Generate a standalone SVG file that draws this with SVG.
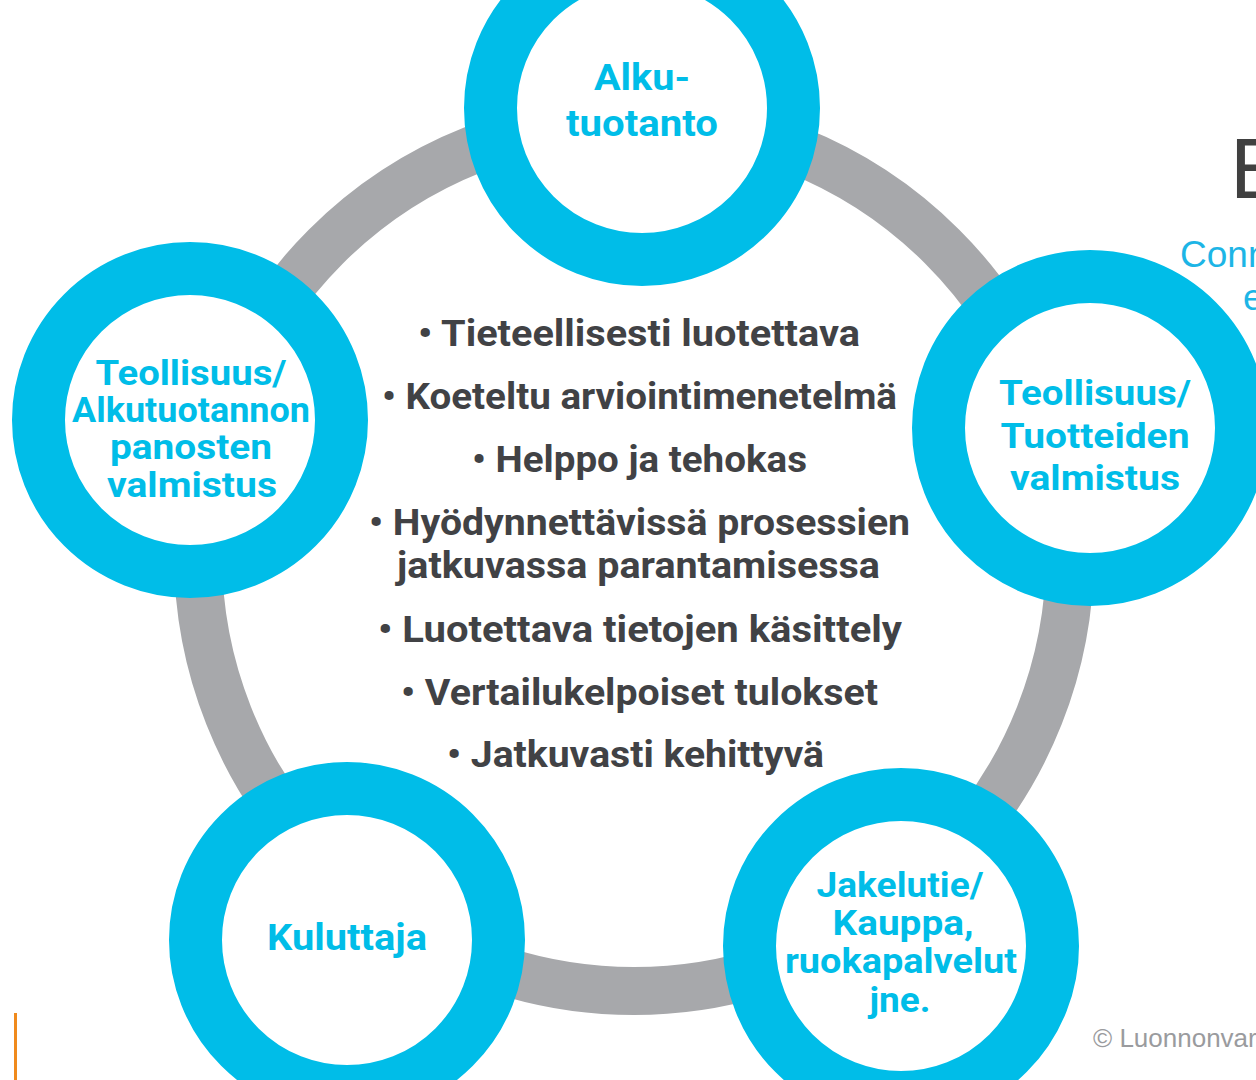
<svg xmlns="http://www.w3.org/2000/svg" width="1256" height="1080" viewBox="0 0 1256 1080">
  <style>
    .ring { fill: none; stroke: #a7a8ab; stroke-width: 48; }
    .node { fill: #ffffff; stroke: #00bde8; stroke-width: 53; }
    .lbl { font-family: Roboto, "Open Sans", "Liberation Sans", sans-serif; font-weight: 700; fill: #00bde8; text-anchor: middle; }
    .item { font-family: Roboto, "Open Sans", "Liberation Sans", sans-serif; font-weight: 700; font-size: 37px; fill: #414245; text-anchor: middle; }
    .side { font-family: "Liberation Sans", Arial, sans-serif; }
  </style>

  <rect width="1256" height="1080" fill="#ffffff"/>

  <!-- side header fragments -->
  <text class="side" x="1230" y="198" font-size="85" fill="#404040">E</text>
  <text class="side" x="1180" y="267" font-size="37" fill="#1db5e6">Conn</text>
  <text class="side" x="1243" y="310" font-size="37" fill="#1db5e6">e</text>

  <!-- connecting ring -->
  <g id="connectors">
    <circle class="ring" cx="634" cy="555" r="436"/>
  </g>

  <g id="node-alkutuotanto">
    <circle class="node" cx="642" cy="108" r="151.5"/>
    <text class="lbl" font-size="37" x="642" y="90" textLength="96" lengthAdjust="spacingAndGlyphs">Alku-</text>
    <text class="lbl" font-size="37" x="642" y="136" textLength="152" lengthAdjust="spacingAndGlyphs">tuotanto</text>
  </g>

  <g id="node-panokset">
    <circle class="node" cx="190" cy="420" r="151.5"/>
    <text class="lbl" font-size="35" x="191" y="385" textLength="191" lengthAdjust="spacingAndGlyphs">Teollisuus/</text>
    <text class="lbl" font-size="35" x="191" y="422" textLength="238" lengthAdjust="spacingAndGlyphs">Alkutuotannon</text>
    <text class="lbl" font-size="35" x="191" y="459" textLength="162" lengthAdjust="spacingAndGlyphs">panosten</text>
    <text class="lbl" font-size="35" x="192" y="497" textLength="170" lengthAdjust="spacingAndGlyphs">valmistus</text>
  </g>

  <g id="node-tuotteet">
    <circle class="node" cx="1090" cy="428" r="151.5"/>
    <text class="lbl" font-size="35" x="1095" y="405" textLength="192" lengthAdjust="spacingAndGlyphs">Teollisuus/</text>
    <text class="lbl" font-size="35" x="1095" y="448" textLength="189" lengthAdjust="spacingAndGlyphs">Tuotteiden</text>
    <text class="lbl" font-size="35" x="1095" y="490" textLength="170" lengthAdjust="spacingAndGlyphs">valmistus</text>
  </g>

  <g id="node-kuluttaja">
    <circle class="node" cx="347" cy="940" r="151.5"/>
    <text class="lbl" font-size="37" x="347" y="950" textLength="160" lengthAdjust="spacingAndGlyphs">Kuluttaja</text>
  </g>

  <g id="node-jakelutie">
    <circle class="node" cx="901" cy="946" r="151.5"/>
    <text class="lbl" font-size="35" x="900" y="897" textLength="167" lengthAdjust="spacingAndGlyphs">Jakelutie/</text>
    <text class="lbl" font-size="35" x="903" y="935" textLength="141" lengthAdjust="spacingAndGlyphs">Kauppa,</text>
    <text class="lbl" font-size="35" x="901" y="973" textLength="232" lengthAdjust="spacingAndGlyphs">ruokapalvelut</text>
    <text class="lbl" font-size="35" x="900" y="1012" textLength="61" lengthAdjust="spacingAndGlyphs">jne.</text>
  </g>

  <!-- central list of properties -->
  <g id="properties">
    <text class="item" x="639" y="346" textLength="442" lengthAdjust="spacingAndGlyphs">• Tieteellisesti luotettava</text>
    <text class="item" x="639.5" y="409" textLength="515" lengthAdjust="spacingAndGlyphs">• Koeteltu arviointimenetelmä</text>
    <text class="item" x="639.5" y="472" textLength="335" lengthAdjust="spacingAndGlyphs">• Helppo ja tehokas</text>
    <text class="item" x="639.5" y="535" textLength="541" lengthAdjust="spacingAndGlyphs">• Hyödynnettävissä prosessien</text>
    <text class="item" x="638.5" y="578" textLength="483" lengthAdjust="spacingAndGlyphs">jatkuvassa parantamisessa</text>
    <text class="item" x="640" y="642" textLength="524" lengthAdjust="spacingAndGlyphs">• Luotettava tietojen käsittely</text>
    <text class="item" x="639.5" y="705" textLength="477" lengthAdjust="spacingAndGlyphs">• Vertailukelpoiset tulokset</text>
    <text class="item" x="635.5" y="767" textLength="377" lengthAdjust="spacingAndGlyphs">• Jatkuvasti kehittyvä</text>
  </g>

  <!-- footer -->
  <text class="side" x="1093" y="1047" font-size="26" fill="#9a9b9e">© Luonnonvar</text>
  <rect x="14" y="1013" width="3" height="67" fill="#f08a1c"/>
</svg>
